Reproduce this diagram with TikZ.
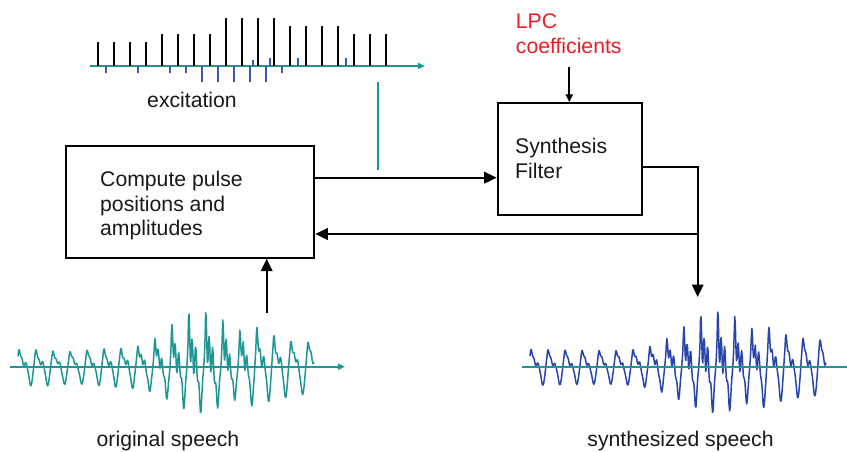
\documentclass[tikz,border=0pt]{standalone}
\usepackage{fontspec}
\setmainfont{Liberation Sans}
\usetikzlibrary{arrows.meta,calc}
\definecolor{axisteal}{RGB}{30,150,150}
\definecolor{pulseblue}{RGB}{55,90,175}
\definecolor{synblue}{RGB}{40,70,170}
\definecolor{lpcred}{RGB}{235,30,40}
\tikzset{
  lbl/.style={inner sep=0pt,font=\fontsize{21.2}{24.5}\selectfont,text=black!90},
  blockbox/.style={draw=black,line width=2pt,fill=white,inner sep=0pt},
  conn/.style={draw=black,line width=2pt},
  bigtip/.style={-{Triangle[length=12.5pt,width=11.5pt]}},
  smalltip/.style={-{Triangle[length=8pt,width=7pt]}},
  axisline/.style={draw=axisteal,line width=2.2pt},
  blackpulse/.style={draw=black,line width=1.8pt},
  bluepulse/.style={draw=pulseblue,line width=2.2pt},
  declare function={
    ph(\t)=mod(\t,17)/17;
    mid(\t)=exp(-1*pow((\t-185)/50,2));
    env(\t)=21+24*mid(\t)+12*(\t>225);
    wav(\t)=env(\t)*(0.6*sin(360*ph(\t)+20)+0.3*sin(720*ph(\t)+70)+(0.12+0.55*mid(\t))*exp(-2*ph(\t))*sin(1800*ph(\t))+0.05*sin(47*\t));
    wavb(\t)=env(\t)*(0.6*sin(360*ph(\t)+20)+0.3*sin(720*ph(\t)+70)+(0.12+0.55*mid(\t))*exp(-2*ph(\t))*sin(1800*ph(\t))+0.05*sin(41*\t+30));
  }
}
\begin{document}
\begin{tikzpicture}[x=1pt,y=-1pt]
\useasboundingbox[fill=white] (0,0) rectangle (847,452);

% excitation
\draw[axisline,-{Triangle[length=7pt,width=6pt]}] (90,66) -- (425,66);
\foreach \px/\h in {97.7/42.3,113.7/42.3,129.7/42.3,145.7/42.3,161.7/34,177.7/34,193.7/34,209.7/34,225.7/18.3,241.7/18.3,257.7/18.3,273.7/18.3,289.7/26,305.7/26,321.7/26,337.7/26,353.7/34,369.7/34,385.7/34}
  \draw[blackpulse] (\px,66) -- (\px,\h);
\foreach \px/\e in {105.7/73.3,137.7/73.3,169.7/73.3,185.7/73.3,201.7/81.7,217.7/81.7,233.7/81.7,249.7/81.7,265.7/81.7,281.7/73.3,252.7/60,269.7/58.3,297.7/58.3,345.7/58.3}
  \draw[bluepulse] (\px,66) -- (\px,\e);
\node[lbl] (exclbl) at (192,100) {excitation};
\draw[draw=axisteal,line width=2pt] (378,82) -- (378,170);

% blocks
\node[blockbox,minimum width=248.6pt,minimum height=112pt] (compute) at (190,201.7) {};
\node[lbl,align=left,anchor=west] (computetxt) at (100,206) {Compute pulse\\positions and\\amplitudes};
\node[blockbox,minimum width=144.6pt,minimum height=111.7pt] (synth) at (570,159.2) {};
\node[lbl,align=left,anchor=west,font=\fontsize{21.2}{25}\selectfont] (synthtxt) at (515,158.5) {Synthesis\\Filter};
\node[lbl,align=left,anchor=west,text=lpcred,font=\fontsize{21.2}{25}\selectfont] (lpc) at (515.7,34) {LPC\\coefficients};

% connectors
\coordinate (lpcstart) at (569.3,66.7);
\coordinate (out) at (697.7,297);
\coordinate (osstart) at (266.7,313);
\draw[conn,smalltip] (lpcstart) -- (lpcstart |- synth.north);
\draw[conn,bigtip] (compute.east |- 0,177.7) -- (synth.west |- 0,177.7);
\draw[conn,bigtip] (synth.east |- 0,166.7) -| (out);
\draw[conn,bigtip] (out |- 0,234) -- (compute.east |- 0,234);
\draw[conn,bigtip] (osstart) -- (osstart |- compute.south);

% original speech
\draw[axisline,-{Triangle[length=7pt,width=6pt]}] (10,366.7) -- (345,366.7);
\draw[draw=axisteal,line width=1.5pt,line join=round] plot[domain=0:296,samples=520] ({18+\x},{366.7-wav(\x)});
\node[lbl] (origlbl) at (168,441) {original speech};

% synthesized speech
\draw[draw=synblue,line width=1.5pt,line join=round] plot[domain=0:296,samples=520] ({530+\x},{366.7-wavb(\x)});
\draw[axisline] (521.7,366.7) -- (847,366.7);
\node[lbl] (synlbl) at (680.5,441) {synthesized speech};
\end{tikzpicture}
\end{document}
